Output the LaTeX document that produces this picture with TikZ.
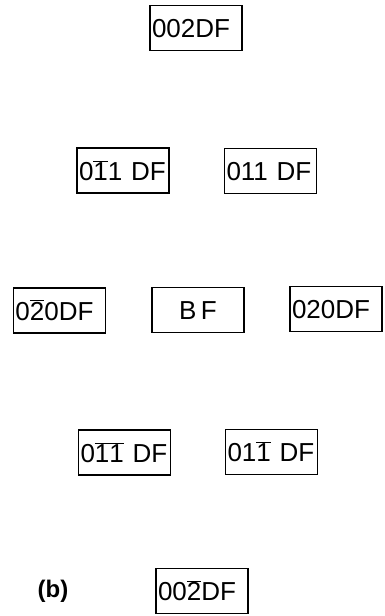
\documentclass[tikz,border=0pt]{standalone}
\usepackage{fontspec}
\setmainfont{Liberation Sans}
% digit with a bar over it (negative Miller index); the bar adds no height
\newcommand\negidx[1]{\smash{\ensuremath{\overline{\mbox{#1}}}}}
\begin{document}
\begin{tikzpicture}[x=1pt,y=-1pt,
  refl/.style={draw,line width=1.2pt,minimum width=92pt,minimum height=45pt,
    inner xsep=2pt,text width=88pt,align=left,text height=19pt,text depth=0pt,
    font=\fontsize{26}{26}\selectfont},
  brightf/.style={refl,align=center},
  panel/.style={font=\bfseries\fontsize{24}{24}\selectfont}]
  \useasboundingbox (0,0) rectangle (384,616);
  \node[refl] (t)  at (196,28)    {\mbox{002DF}};
  \node[refl] (ul) at (123,170.5) {\mbox{0\negidx{1}1 DF}};
  \node[refl] (ur) at (270.5,171) {\mbox{011 DF}};
  \node[refl] (ml) at (59.5,310.5) {\mbox{0\negidx{2}0DF}};
  \node[brightf] (c) at (198,310) {\mbox{B\,F}};
  \node[refl] (mr) at (336,309)   {\mbox{020DF}};
  \node[refl] (ll) at (124.5,452.5) {\mbox{0\negidx{1}\negidx{1} DF}};
  \node[refl] (lr) at (271.5,452)   {\mbox{01\negidx{1} DF}};
  \node[refl] (b)  at (202,591)   {\mbox{00\negidx{2}DF}};
  \node[panel] (lbl) at (53,591) {(b)};
\end{tikzpicture}
\end{document}
